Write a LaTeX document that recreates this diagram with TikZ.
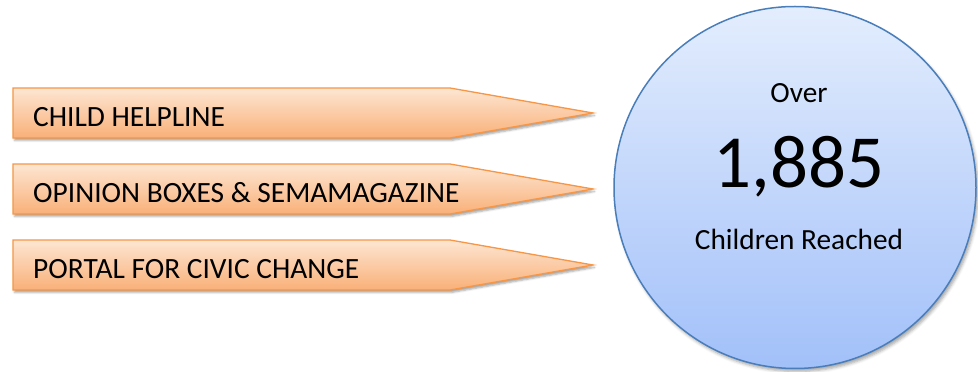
\documentclass[tikz,border=0pt]{standalone}
\usepackage{fontspec}
\setmainfont{Carlito}
\usepackage{xcolor}
\usetikzlibrary{positioning,calc,shadows.blur}
\definecolor{peach}{HTML}{FDE6D3}
\definecolor{tangerine}{HTML}{F9B078}
\definecolor{orangeline}{HTML}{F79646}
\definecolor{skytop}{HTML}{E3EDFD}
\definecolor{skybottom}{HTML}{A2C0F9}
\definecolor{blueline}{HTML}{4A7EBB}

\begin{document}
\begin{tikzpicture}[x=1pt,y=1pt,
    channel/.style={draw=orangeline, line width=1.3pt, top color=peach, bottom color=tangerine,
      blur shadow={shadow xshift=1.5pt, shadow yshift=-2.5pt, shadow blur radius=2pt, shadow opacity=35}},
    chantext/.style={anchor=base west, inner sep=0pt, font=\fontsize{29.4}{35}\selectfont},
    reachtext/.style={anchor=base, inner sep=0pt, font=\fontsize{29.3}{35}\selectfont}]
  \useasboundingbox (0,0) rectangle (978,372);
  % the three channels
  \foreach \y/\name/\txt in {259/helpline/CHILD HELPLINE, 183/boxes/OPINION BOXES \& SEMAMAGAZINE, 107/portal/PORTAL FOR CIVIC CHANGE}{
    \draw[channel] (13,\y+25) -- (450,\y+25) -- (593,\y) -- (450,\y-25) -- (13,\y-25) -- cycle;
    \node[chantext] (\name) at (33,\y-14) {\txt};
  }
  % the circle with the count
  \node[circle, draw=blueline, line width=1.5pt, top color=skytop, bottom color=skybottom,
    minimum size=362pt, inner sep=0pt,
    blur shadow={shadow xshift=2pt, shadow yshift=-3pt, shadow blur radius=3pt, shadow opacity=35}] (reach) at (795,184.5) {};
  \node[reachtext] (over) at (799,269) {Over};
  \node[reachtext, font=\fontsize{75}{82}\selectfont] (count) at (799,184) {1,885};
  \node[reachtext] (children) at (799,122) {Children Reached};
\end{tikzpicture}
\end{document}
